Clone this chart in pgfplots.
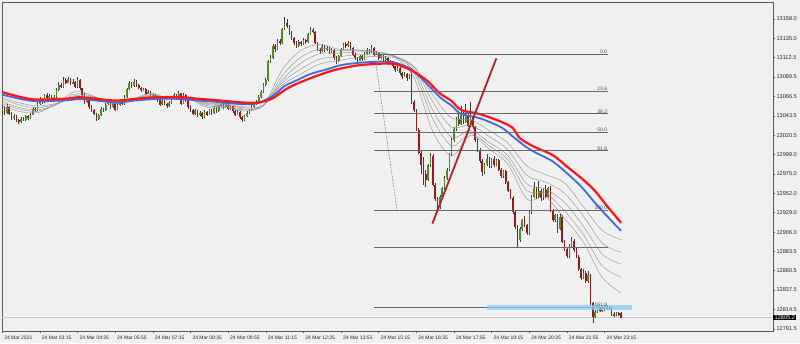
\documentclass[border=0pt]{standalone}
\usepackage{fontspec}
\setmainfont{Liberation Sans}
\usepackage{pgfplots}
\usepackage{pgfplotstable}
\pgfplotsset{compat=1.18}
\definecolor{bg}{RGB}{240,240,240}
\definecolor{bull}{RGB}{78,140,40}
\definecolor{bear}{RGB}{150,24,24}
\definecolor{wick}{RGB}{60,60,60}
\definecolor{ema}{RGB}{150,150,150}
\definecolor{mablue}{RGB}{65,105,225}
\definecolor{mared}{RGB}{255,20,20}
\definecolor{fib}{RGB}{105,105,105}
\definecolor{trend}{RGB}{178,34,40}
\definecolor{zone}{RGB}{135,206,250}
\definecolor{pline}{RGB}{200,200,200}

\pgfplotstableread{
i o h l c
0 13049 13056 13046 13052
1 13052 13055 13045 13047
2 13047 13057 13046 13054
3 13054 13055 13044 13046
4 13046 13048 13039 13041
5 13041 13046 13039 13043
6 13043 13045 13036 13038
7 13038 13040 13034 13036
8 13036 13042 13035 13040
9 13040 13042 13037 13039
10 13039 13045 13038 13043
11 13043 13045 13039 13041
12 13041 13047 13040 13045
13 13045 13054 13044 13052
14 13052 13054 13048 13050
15 13050 13060 13049 13058
16 13058 13066 13056 13063
17 13063 13065 13058 13060
18 13060 13070 13059 13068
19 13068 13070 13062 13064
20 13064 13069 13063 13067
21 13067 13068 13060 13062
22 13062 13068 13061 13066
23 13066 13076 13065 13074
24 13074 13083 13073 13080
25 13080 13082 13076 13078
26 13078 13089 13077 13086
27 13086 13088 13081 13083
28 13083 13090 13082 13087
29 13087 13088 13080 13082
30 13082 13087 13081 13084
31 13084 13085 13076 13078
32 13078 13089 13077 13086
33 13086 13087 13074 13076
34 13076 13077 13066 13068
35 13068 13070 13058 13060
36 13060 13065 13059 13063
37 13063 13064 13052 13054
38 13054 13056 13048 13050
39 13050 13052 13044 13046
40 13046 13047 13037 13040
41 13040 13046 13039 13044
42 13044 13054 13043 13052
43 13052 13053 13048 13050
44 13050 13059 13049 13057
45 13057 13062 13056 13060
46 13060 13061 13052 13054
47 13054 13060 13053 13058
48 13058 13059 13049 13051
49 13051 13058 13050 13056
50 13056 13064 13055 13062
51 13062 13063 13056 13058
52 13058 13068 13057 13066
53 13066 13077 13065 13075
54 13075 13085 13074 13082
55 13082 13083 13077 13079
56 13079 13087 13078 13084
57 13084 13086 13078 13080
58 13080 13081 13075 13077
59 13077 13078 13072 13074
60 13074 13077 13073 13075
61 13075 13076 13068 13070
62 13070 13074 13069 13072
63 13072 13073 13065 13067
64 13067 13070 13066 13068
65 13068 13069 13062 13064
66 13064 13065 13060 13062
67 13062 13063 13055 13057
68 13057 13063 13056 13061
69 13061 13062 13056 13058
70 13058 13059 13053 13055
71 13055 13061 13054 13059
72 13059 13065 13058 13063
73 13063 13071 13062 13068
74 13068 13069 13062 13064
75 13064 13073 13063 13070
76 13070 13071 13056 13058
77 13058 13071 13057 13068
78 13068 13069 13060 13062
79 13062 13063 13052 13054
80 13054 13056 13048 13050
81 13050 13051 13044 13046
82 13046 13052 13045 13050
83 13050 13051 13042 13044
84 13044 13049 13043 13047
85 13047 13048 13040 13042
86 13042 13050 13041 13048
87 13048 13049 13043 13045
88 13045 13052 13044 13050
89 13050 13051 13045 13047
90 13047 13055 13046 13053
91 13053 13054 13047 13049
92 13049 13057 13048 13055
93 13055 13060 13054 13058
94 13058 13059 13052 13054
95 13054 13059 13053 13057
96 13057 13058 13050 13052
97 13052 13057 13051 13055
98 13055 13056 13047 13049
99 13049 13050 13043 13045
100 13045 13050 13044 13048
101 13048 13049 13040 13042
102 13042 13043 13036 13039
103 13039 13045 13038 13043
104 13043 13049 13042 13047
105 13047 13052 13046 13050
106 13050 13056 13049 13054
107 13054 13060 13053 13058
108 13058 13062 13056 13060
109 13060 13068 13059 13066
110 13066 13074 13065 13072
111 13072 13082 13071 13080
112 13080 13088 13079 13086
113 13086 13110 13085 13108
114 13108 13115 13106 13112
115 13112 13128 13111 13126
116 13126 13128 13119 13122
117 13122 13135 13121 13132
118 13132 13134 13127 13130
119 13130 13148 13129 13146
120 13146 13160 13145 13153
121 13153 13158 13147 13150
122 13150 13151 13139 13142
123 13142 13144 13133 13136
124 13136 13137 13127 13130
125 13130 13132 13124 13126
126 13126 13133 13125 13131
127 13131 13132 13126 13128
128 13128 13135 13127 13133
129 13133 13135 13129 13131
130 13131 13142 13130 13140
131 13140 13148 13139 13145
132 13145 13147 13141 13143
133 13143 13144 13128 13130
134 13130 13131 13120 13122
135 13122 13124 13117 13120
136 13120 13128 13119 13126
137 13126 13127 13119 13121
138 13121 13126 13120 13124
139 13124 13125 13117 13119
140 13119 13124 13118 13122
141 13122 13123 13110 13112
142 13112 13114 13105 13108
143 13108 13116 13107 13114
144 13114 13124 13113 13122
145 13122 13130 13121 13128
146 13128 13131 13124 13126
147 13126 13132 13125 13130
148 13130 13131 13122 13124
149 13124 13125 13114 13116
150 13116 13118 13110 13112
151 13112 13113 13107 13109
152 13109 13116 13108 13114
153 13114 13115 13109 13111
154 13111 13119 13110 13117
155 13117 13124 13116 13122
156 13122 13123 13117 13119
157 13119 13127 13118 13124
158 13124 13125 13114 13116
159 13116 13120 13115 13118
160 13118 13119 13110 13112
161 13112 13117 13111 13115
162 13115 13116 13108 13110
163 13110 13114 13109 13112
164 13112 13113 13104 13106
165 13106 13110 13105 13108
166 13108 13109 13100 13102
167 13102 13103 13096 13098
168 13098 13102 13097 13100
169 13100 13101 13092 13094
170 13094 13095 13087 13090
171 13090 13095 13089 13093
172 13093 13094 13085 13088
173 13088 13093 13087 13091
174 13091 13095 13058 13060
175 13060 13062 13048 13050
176 13050 13052 13025 13027
177 13027 13029 12998 13000
178 13000 13002 12975 12985
179 12985 12995 12962 12975
180 12975 12980 12959 12968
181 12968 12987 12966 12985
182 12985 13000 12983 12996
183 12996 12998 12960 12962
184 12962 12964 12943 12945
185 12945 12947 12929 12936
186 12936 12950 12934 12948
187 12948 12960 12946 12958
188 12958 12972 12956 12970
189 12970 12982 12968 12980
190 12980 13000 12978 12998
191 12998 13017 12996 13015
192 13015 13030 13013 13028
193 13028 13042 13026 13040
194 13040 13048 13032 13034
195 13034 13055 13033 13046
196 13046 13049 13034 13036
197 13036 13058 13035 13045
198 13045 13047 13030 13032
199 13032 13060 13031 13042
200 13042 13044 13028 13030
201 13030 13032 13013 13015
202 13015 13017 13001 13003
203 13003 13005 12988 12990
204 12990 12992 12972 12977
205 12977 12988 12975 12986
206 12986 12998 12984 12993
207 12993 12995 12982 12984
208 12984 12994 12982 12992
209 12992 12996 12983 12985
210 12985 12993 12984 12991
211 12991 12993 12978 12980
212 12980 12982 12970 12972
213 12972 12980 12970 12978
214 12978 12980 12963 12965
215 12965 12967 12953 12955
216 12955 12957 12945 12947
217 12947 12949 12928 12930
218 12930 12932 12910 12912
219 12912 12914 12888 12897
220 12897 12912 12895 12910
221 12910 12922 12908 12920
222 12920 12925 12912 12914
223 12914 12916 12903 12905
224 12905 12932 12903 12930
225 12930 12950 12928 12948
226 12948 12965 12946 12958
227 12958 12960 12945 12948
228 12948 12966 12946 12955
229 12955 12957 12943 12946
230 12946 12958 12944 12956
231 12956 12962 12946 12948
232 12948 12960 12946 12958
233 12958 12960 12930 12932
234 12932 12934 12918 12920
235 12920 12928 12918 12926
236 12926 12928 12905 12910
237 12910 12928 12908 12924
238 12924 12926 12893 12895
239 12895 12897 12884 12886
240 12886 12888 12876 12878
241 12878 12892 12876 12890
242 12890 12900 12888 12896
243 12896 12898 12883 12885
244 12885 12887 12875 12877
245 12877 12879 12860 12862
246 12862 12864 12850 12852
247 12852 12862 12850 12858
248 12858 12860 12846 12848
249 12848 12860 12846 12855
250 12855 12857 12820 12822
251 12822 12824 12799 12806
252 12806 12814 12804 12812
253 12812 12819 12810 12816
254 12816 12818 12811 12813
255 12813 12819 12812 12817
256 12817 12820 12813 12815
257 12815 12820 12814 12818
258 12818 12819 12814 12816
259 12816 12817 12807 12809
260 12809 12812 12806 12808
261 12808 12812 12807 12810
262 12810 12812 12807 12808
263 12810.3 12812.1 12805.2 12805.2
}\candles

\pgfplotstableread{
i g1 g2 g3 g4 g5
0 13055 13058 13060 13063 13065
7 13048.9 13051.5 13053.6 13056.7 13059
15 13047.2 13048.8 13050.5 13053 13055.2
23 13058 13056.9 13056.7 13057.3 13058.2
31 13072.3 13069.3 13067.3 13065.9 13065.3
39 13066.8 13066.2 13065.5 13064.9 13064.6
47 13058 13059.2 13059.9 13060.4 13060.9
55 13062.8 13062.6 13062.5 13062.4 13062.4
63 13069.9 13068.6 13067.6 13066.7 13066.1
71 13064.4 13064.7 13064.7 13064.6 13064.5
79 13063.8 13064.1 13064.2 13064.2 13064.2
87 13053.6 13055.5 13056.9 13058.1 13059
95 13053.2 13054.2 13055.2 13056.3 13057.2
103 13049.3 13050.5 13051.6 13053 13054.1
111 13056.1 13055.6 13055.4 13055.7 13056.1
119 13098 13091 13086 13083 13080
127 13121 13112.9 13105.9 13099 13093.2
135 13128 13122.7 13117.1 13110.7 13104.9
143 13122.3 13120.6 13117.6 13113.3 13108.8
151 13121.5 13120.8 13119 13115.9 13112.4
159 13119.2 13119.2 13118.4 13116.5 13113.9
167 13112.5 13113.7 13114.1 13113.5 13112.1
175 13089 13095 13098 13101 13102
183 13025 13040 13050 13060 13068
191 12996 13008 13018 13030 13041
199 13020.7 13022.6 13026.2 13032.7 13039.2
207 13004 13008 13012 13019 13026
215 12986 12991 12996 13003 13011
223 12945 12955 12963 12973 12984
231 12947 12952 12957 12965 12974
239 12922 12931 12941 12952 12964
247 12894 12903 12913 12925 12936
255 12852.5 12866 12880 12893 12908
263 12834 12853 12868 12882 12897
}\emas

\begin{document}
\begin{tikzpicture}[x=1pt,y=1pt]
\useasboundingbox (0,0) rectangle (800,343);
\fill[bg] (0,0) rectangle (800,343);
\node[anchor=base west, inner sep=0pt, font=\fontsize{5.6}{6}\selectfont, text=black!85] at (3,335) {▼\ \ \#NDXm,M5\ \ 12810.3 12812.1 12805.2 12805.2};
\begin{axis}[
  at={(2pt,12pt)}, anchor=south west, scale only axis,
  width=771pt, height=329pt,
  xmin=-0.1, xmax=327.57, ymin=12789.1, ymax=13178.1,
  clip mode=individual,
  axis background/.style={fill=bg},
  axis line style={draw=black!65, line width=0.8pt},
  scaled y ticks=false,
  ytick={12791.5,12814.5,12837.5,12860.5,12883.5,12906,12929,12952,12975,12998,13020.5,13043.5,13066.5,13089.5,13112.5,13135,13158},
  yticklabel={\pgfmathprintnumber[fixed,fixed zerofill,precision=1,1000 sep={}]{\tick}},
  yticklabel pos=right, ytick pos=right,
  xtick={0,16,32,48,64,80,96,112,128,144,160,176,192,208,224,240,256},
  xticklabels={24 Mar 2021,24 Mar 03:15,24 Mar 04:35,24 Mar 05:55,24 Mar 07:15,24 Mar 08:35,24 Mar 09:55,24 Mar 11:15,24 Mar 12:35,24 Mar 13:55,24 Mar 15:15,24 Mar 16:35,24 Mar 17:55,24 Mar 19:15,24 Mar 20:35,24 Mar 21:55,24 Mar 23:15},
  xtick pos=bottom,
  tick align=outside, major tick length=2pt,
  tick style={draw=black!65, line width=0.5pt},
  /pgf/number format/assume math mode=true,
  y tick label style={font=\fontsize{5.6}{6}\selectfont, text=black!85, anchor=west, xshift=-2pt},
  x tick label style={font=\fontsize{5}{6}\selectfont, text=black!85, anchor=north west, xshift=-1.5pt, yshift=1pt},
]
% current price line
\addplot[pline, line width=1.5pt] coordinates {(-0.1,12805.2) (327.57,12805.2)};
% candle wicks
\addplot[draw=none, mark=none, error bars/.cd, y dir=both, y explicit, error mark=none,
  error bar style={line width=0.6pt, draw=wick}]
  table[x=i, y expr={(\thisrow{h}+\thisrow{l})/2}, y error expr={(\thisrow{h}-\thisrow{l})/2}] {\candles};
% bull bodies
\addplot[draw=none, mark=none, restrict expr to domain={\thisrow{c}-\thisrow{o}}{0:100000},
  error bars/.cd, y dir=both, y explicit, error mark=none,
  error bar style={line width=1.6pt, draw=bull}]
  table[x=i, y expr={(\thisrow{o}+\thisrow{c})/2}, y error expr={max(abs(\thisrow{c}-\thisrow{o})/2,0.5)}] {\candles};
% bear bodies
\addplot[draw=none, mark=none, restrict expr to domain={\thisrow{c}-\thisrow{o}}{-100000:-0.001},
  error bars/.cd, y dir=both, y explicit, error mark=none,
  error bar style={line width=1.6pt, draw=bear}]
  table[x=i, y expr={(\thisrow{o}+\thisrow{c})/2}, y error expr={max(abs(\thisrow{c}-\thisrow{o})/2,0.5)}] {\candles};
% gray ribbon
\addplot[ema, line width=0.45pt, smooth] table[x=i, y=g1] {\emas};
\addplot[ema, line width=0.45pt, smooth] table[x=i, y=g2] {\emas};
\addplot[ema, line width=0.45pt, smooth] table[x=i, y=g3] {\emas};
\addplot[ema, line width=0.45pt, smooth] table[x=i, y=g4] {\emas};
\addplot[ema, line width=0.45pt, smooth] table[x=i, y=g5] {\emas};
% blue MA
\addplot[mablue, line width=1.8pt, smooth] coordinates {
(0,13068.5) (13,13061) (28,13062) (33,13063.5) (42,13061) (49,13059) (56,13061.5) (66,13063.5) (76,13063.5) (82,13062) (91,13060) (101,13057.5) (108,13058) (113,13064) (116,13069) (120,13078.8) (124,13084) (131,13093) (138,13098.5) (144,13103.5) (152,13106.3) (160,13107.5) (164,13107.5) (168,13105.6) (173,13100) (177,13091) (181,13080) (186,13065.5) (191,13055.5) (195,13045.7) (203,13040.6) (212,13030) (217,13019) (222,13008) (226,13001) (234,12989.5) (240,12975.6) (246,12960) (251.5,12942) (257,12925) (263,12907.5)};
% red MA
\addplot[mared, line width=2.2pt, smooth] coordinates {
(0,13071.5) (13,13063) (28,13064) (33,13065.5) (42,13063) (49,13061.5) (56,13063.5) (66,13065.5) (76,13065.5) (82,13064) (91,13062) (101,13059.5) (108,13059) (113,13062) (116,13066) (120,13074) (124,13080) (131,13088) (138,13095) (144,13099.5) (152,13103.5) (160,13105) (164,13105.5) (168,13104) (173,13098.5) (177,13092) (181,13084) (186,13070) (191,13061) (195,13050.5) (203,13045.5) (212,13036.5) (217,13029) (220,13017) (226,13007) (234,12997) (240,12983.5) (246,12970) (251.5,12956) (257,12937) (263,12917)};
% fibonacci levels
\addplot[fib, line width=0.8pt] coordinates {(157.8,13116.6) (257.3,13116.6)};
\addplot[fib, line width=0.8pt] coordinates {(157.8,13072.9) (257.3,13072.9)};
\addplot[fib, line width=0.8pt] coordinates {(157.8,13045.9) (257.3,13045.9)};
\addplot[fib, line width=0.8pt] coordinates {(157.8,13024.0) (257.3,13024.0)};
\addplot[fib, line width=0.8pt] coordinates {(157.8,13002.1) (257.3,13002.1)};
\addplot[fib, line width=0.8pt] coordinates {(157.8,12931.4) (257.3,12931.4)};
\addplot[fib, line width=0.8pt] coordinates {(157.8,12887.7) (257.3,12887.7)};
\addplot[fib, line width=0.8pt] coordinates {(157.8,12816.9) (257.3,12816.9)};
% zone
\addplot[draw=none, fill=zone, fill opacity=0.75] coordinates {(206.2,12814) (267.5,12814) (267.5,12820) (206.2,12820)} -- cycle;
% dotted fib trend
\addplot[black!80, line width=0.5pt, densely dotted] coordinates {(158.7,13107.5) (167.9,12930.2)};
% red trendline
\addplot[trend, line width=1.8pt] coordinates {(182.8,12916) (210.0,13111.5)};
% fib labels
\begin{scope}[every node/.style={font=\fontsize{5}{6}\selectfont, text=black!70, inner sep=0.4pt, anchor=south east}]
\node at (axis cs:257.3,13116.6) {0.0};
\node at (axis cs:257.3,13072.9) {23.6};
\node at (axis cs:257.3,13045.9) {38.2};
\node at (axis cs:257.3,13024.0) {50.0};
\node at (axis cs:257.3,13002.1) {61.8};
\node at (axis cs:257.3,12931.4) {100.0};
\node at (axis cs:257.3,12816.9) {161.8};
\end{scope}
% price box
\node[fill=black, text=white, inner xsep=1.5pt, inner ysep=0.9pt, anchor=west, font=\fontsize{5.6}{6}\selectfont] at (axis cs:327.57,12805.2) {12805.2};
\end{axis}
\end{tikzpicture}
\end{document}
